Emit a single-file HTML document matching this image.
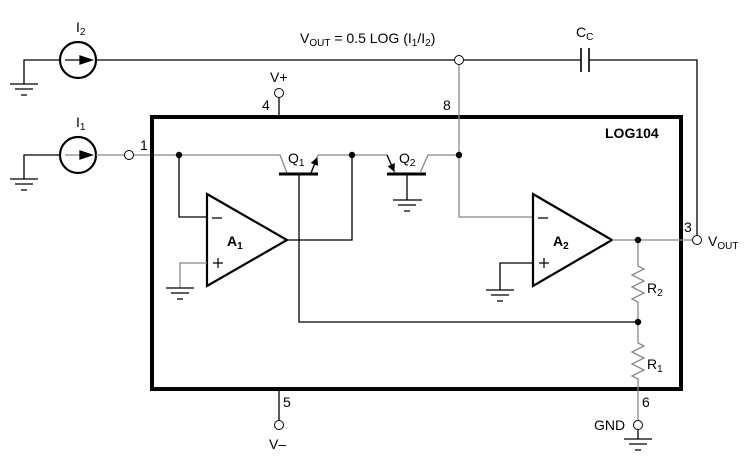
<!DOCTYPE html>
<html><head><style>body{margin:0;background:#fff}svg{display:block}text{font-family:"Liberation Sans",sans-serif;fill:#000}</style></head>
<body>
<svg width="746" height="471" viewBox="0 0 746 471" xmlns="http://www.w3.org/2000/svg">
<defs>
<marker id="ah" markerWidth="8" markerHeight="8" refX="7" refY="4" orient="auto" markerUnits="userSpaceOnUse"><path d="M0,0 L8,4 L0,8 z" fill="#000"/></marker>
</defs>
<g fill="none" stroke-width="1.3">
<path d="M24,84 V60 H60" stroke="#000"/>
<path d="M10,84 H38 M15,89 H33 M21,95 H27" stroke="#000"/>
<circle cx="78" cy="60" r="18" stroke="#000" stroke-width="2.2"/>
<path d="M65,60 H92" stroke="#000"/>
<path d="M80,56 L92,60 L80,64z" fill="#000" stroke="#000"/>
<path d="M96,60 H454 M464,60 H581 M589,60 H697 V235" stroke="#000"/>
<path d="M581,48 V72 M589,48 V72" stroke="#000" stroke-width="1.6"/>
<circle cx="459" cy="60" r="4.5" stroke="#000" stroke-width="1"/>
<path d="M24,179 V155 H60" stroke="#000"/>
<path d="M10,179 H38 M15,184 H33 M21,190 H27" stroke="#000"/>
<circle cx="78" cy="155" r="18" stroke="#000" stroke-width="2.2"/>
<path d="M65,155 H92" stroke="#888"/>
<path d="M80,151 L92,155 L80,159z" fill="#000" stroke="#000"/>
<path d="M96,155 H124" stroke="#888"/>
<circle cx="129" cy="155" r="4.5" stroke="#000" stroke-width="1"/>
<path d="M134,155 H280 L287,173" stroke="#888"/>
<rect x="152" y="117" width="529" height="272" stroke="#000" stroke-width="4"/>
<path d="M179,155 V217 H207" stroke="#000"/>
<path d="M207,194 L287,240 L207,286 Z" stroke="#000" stroke-width="2.2"/>
<path d="M207,263 H180 V288" stroke="#888"/>
<path d="M166,288 H194 M171,293 H189 M177,299 H183" stroke="#000"/>
<path d="M287,240 H352 V155" stroke="#000"/>
<path d="M279,174 H318" stroke="#000" stroke-width="3"/>
<path d="M299,174 V322 H638" stroke="#000"/>
<path d="M311,173 L318,155 H387 L395,173" stroke="#888"/>
<path d="M311,173 L317,158" stroke="#000" marker-end="url(#ah)"/>
<path d="M387,155 L394,171" stroke="#000" marker-end="url(#ah)"/>
<path d="M387,174 H426" stroke="#000" stroke-width="3"/>
<path d="M407,174 V200" stroke="#000"/>
<path d="M393,200 H422 M398,205 H416 M404,211 H410" stroke="#000"/>
<path d="M420,173 L428,155 H459" stroke="#888"/>
<path d="M459,65 V217 H533" stroke="#888"/>
<path d="M533,194 L612,240 L533,286 Z" stroke="#000" stroke-width="2.2"/>
<path d="M533,263 H500 V290" stroke="#000"/>
<path d="M486,290 H514 M491,295 H509 M497,301 H503" stroke="#000"/>
<path d="M612,240 H692" stroke="#888"/>
<circle cx="697" cy="240" r="4.5" stroke="#000" stroke-width="1"/>
<path d="M638,240 V266 l6,3 l-12,6 l12,6 l-12,6 l12,6 l-12,6 l6,3 V343 l6,3 l-12,6 l12,6 l-12,6 l12,6 l-12,6 l6,3 V420" stroke="#888"/>
<circle cx="638" cy="425" r="4.5" stroke="#000" stroke-width="1"/>
<path d="M638,430 V439" stroke="#000"/>
<path d="M624,439 H652 M629,444 H647 M635,450 H641" stroke="#000"/>
<path d="M279,98 V117" stroke="#000"/>
<circle cx="279" cy="93" r="4.5" stroke="#000" stroke-width="1"/>
<path d="M279,389 V420" stroke="#000"/>
<circle cx="279" cy="425" r="4.5" stroke="#000" stroke-width="1"/>
<path d="M212,218 H222 M538,218 H548 M213,263 H223 M218,258 V268 M539,263 H549 M544,258 V268" stroke="#000" stroke-width="1.2"/>
</g>
<g fill="#000">
<circle cx="179" cy="155" r="3.2"/><circle cx="352" cy="155" r="3.2"/><circle cx="459" cy="155" r="3.2"/>
<circle cx="638" cy="240" r="3.2"/><circle cx="638" cy="322" r="3.2"/>
</g>
<g font-size="14">
<text x="76" y="32">I<tspan font-size="10" dy="3">2</tspan></text>
<text x="76" y="127">I<tspan font-size="10" dy="3">1</tspan></text>
<text x="300" y="43">V<tspan font-size="10" dy="3">OUT</tspan><tspan dy="-3"> = 0.5 LOG (I</tspan><tspan font-size="10" dy="3">1</tspan><tspan dy="-3">/I</tspan><tspan font-size="10" dy="3">2</tspan><tspan dy="-3">)</tspan></text>
<text x="576" y="37">C<tspan font-size="10" dy="3">C</tspan></text>
<text x="270" y="82">V+</text>
<text x="262" y="110">4</text>
<text x="443" y="110">8</text>
<text x="140" y="150">1</text>
<text x="288" y="163">Q<tspan font-size="10" dy="3">1</tspan></text>
<text x="399" y="163">Q<tspan font-size="10" dy="3">2</tspan></text>
<text x="605" y="138" font-weight="bold">LOG104</text>
<text x="227" y="246" font-weight="bold">A<tspan font-size="10" dy="3">1</tspan></text>
<text x="553" y="246" font-weight="bold">A<tspan font-size="10" dy="3">2</tspan></text>
<text x="684" y="232">3</text>
<text x="708" y="246">V<tspan font-size="10" dy="3">OUT</tspan></text>
<text x="647" y="293">R<tspan font-size="10" dy="3">2</tspan></text>
<text x="647" y="369">R<tspan font-size="10" dy="3">1</tspan></text>
<text x="283" y="407">5</text>
<text x="642" y="407">6</text>
<text x="269" y="449">V–</text>
<text x="594" y="430">GND</text>
</g>
</svg>
</body></html>
